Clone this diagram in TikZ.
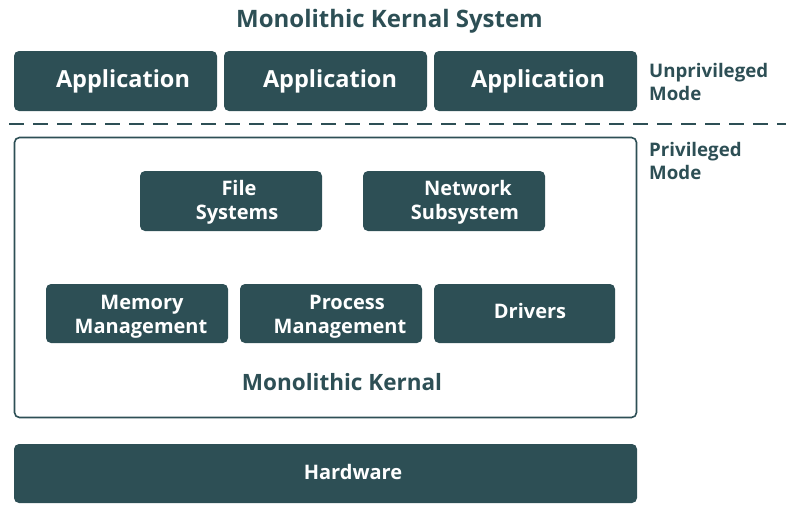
\documentclass[tikz,border=0pt]{standalone}
\usepackage{fontspec}
\setmainfont{Open Sans}
\definecolor{teal}{HTML}{2D4F55}
\begin{document}
\begin{tikzpicture}[x=1pt,y=-1pt,
  box/.style={fill=teal, draw=none, rounded corners=5pt, inner sep=0pt},
  wtxt/.style={text=white, font=\bfseries\fontsize{20}{24}\selectfont, align=center, inner sep=0pt, anchor=base},
  apptxt/.style={text=white, font=\bfseries\fontsize{23.5}{28}\selectfont, inner sep=0pt, anchor=base},
  dtxt/.style={text=teal, font=\bfseries\fontsize{18.7}{23}\selectfont, inner sep=0pt, anchor=base west}]
\useasboundingbox (0,0) rectangle (794,515);
% title
\node[text=teal, font=\bfseries\fontsize{24}{28}\selectfont, inner sep=0pt, anchor=base] (title) at (389.5,27) {Monolithic Kernal System};
% applications
\node[box, minimum width=203pt, minimum height=60pt] (app1) at (115.5,81) {};
\node[box, minimum width=203pt, minimum height=60pt] (app2) at (325.5,81) {};
\node[box, minimum width=203pt, minimum height=60pt] (app3) at (535.5,81) {};
\node[apptxt] (app1t) at (123,87) {Application};
\node[apptxt] (app2t) at (330,87) {Application};
\node[apptxt] (app3t) at (538,87) {Application};
% mode labels
\node[dtxt] (unpriv1) at (649,77) {Unprivileged};
\node[dtxt] (unpriv2) at (649,100) {Mode};
\node[dtxt] (priv1) at (649,156) {Privileged};
\node[dtxt] (priv2) at (649,179) {Mode};
% dashed separator
\coordinate (dl) at (9,124);
\coordinate (dr) at (786,124);
\draw[teal, line width=2pt, dash pattern=on 15pt off 9pt] (dl) -- (dr);
% kernel
\node[draw=teal, line width=1.6pt, rounded corners=5pt, minimum width=622pt, minimum height=280pt, inner sep=0pt] (kernel) at (325.5,277.5) {};
\node[box, minimum width=182pt, minimum height=60pt] (fs) at (231,201) {};
\node[box, minimum width=182pt, minimum height=60pt] (net) at (454,201) {};
\node[box, minimum width=182pt, minimum height=59pt] (mem) at (137,313.5) {};
\node[box, minimum width=182pt, minimum height=59pt] (proc) at (331,313.5) {};
\node[box, minimum width=181pt, minimum height=59pt] (drv) at (524.5,313.5) {};
\node[wtxt] (fst1) at (239,195) {File};
\node[wtxt] (fst2) at (237,219) {Systems};
\node[wtxt] (nett1) at (468,195) {Network};
\node[wtxt] (nett2) at (465,219) {Subsystem};
\node[wtxt] (memt1) at (142,309) {Memory};
\node[wtxt] (memt2) at (141,333) {Management};
\node[wtxt] (proct1) at (347,309) {Process};
\node[wtxt] (proct2) at (340,333) {Management};
\node[wtxt] (drvt) at (530,318) {Drivers};
\node[text=teal, font=\bfseries\fontsize{22.5}{26}\selectfont, inner sep=0pt, anchor=base] (kt) at (342,390) {Monolithic Kernal};
% hardware
\node[box, minimum width=623pt, minimum height=59pt] (hw) at (325.5,473.5) {};
\node[wtxt] (hwt) at (353,479) {Hardware};
\end{tikzpicture}
\end{document}
